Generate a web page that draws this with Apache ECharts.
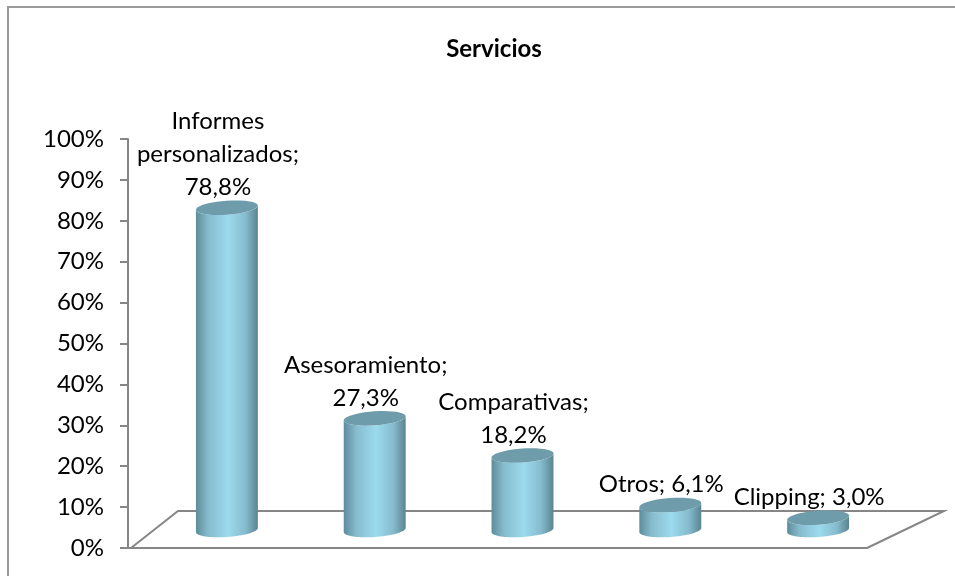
<!DOCTYPE html>
<html>
<head>
<meta charset="utf-8">
<style>
  html, body { margin: 0; padding: 0; background: #fff; }
  #chart { width: 955px; height: 577px; }
</style>
<script src="https://cdn.jsdelivr.net/npm/echarts@6/dist/echarts.min.js"></script>
</head>
<body>
<div id="chart"></div>
<script>
const categories = ['Informes personalizados', 'Asesoramiento', 'Comparativas', 'Otros', 'Clipping'];
const values = [78.8, 27.3, 18.2, 6.1, 3.0];
const wrappedNames = ['Informes\npersonalizados;\n', 'Asesoramiento;\n', 'Comparativas;\n', 'Otros; ', 'Clipping; '];

const fontName = 'Lato';
const axisColor = '#868686';
// fake 3d depth of the floor
const depthX = 25;
const depthY = -18;

function ellipsePoints(cx, cy, rx, ry, from, to) {
  // tilted a few degrees like the excel cylinders
  const tilt = -4 * Math.PI / 180;
  const pts = [];
  for (let i = 0; i <= 40; i++) {
    const a = from + (to - from) * i / 40;
    const ex = rx * Math.cos(a);
    const ey = ry * Math.sin(a);
    pts.push([cx + ex * Math.cos(tilt) - ey * Math.sin(tilt), cy + ex * Math.sin(tilt) + ey * Math.cos(tilt)]);
  }
  return pts;
}

function renderCylinder(params, api) {
  const top = api.coord([api.value(0), api.value(1)]);
  const base = api.coord([api.value(0), 0]);
  const rx = api.size([1, 0])[0] * 0.21;
  const cx = top[0] + depthX;
  const topY = top[1] + depthY;
  const baseY = base[1] + depthY;
  const ry = 7;
  // body goes over the lower half of the bottom ellipse
  const body = ellipsePoints(cx, baseY, rx, ry, Math.PI, 0).concat(ellipsePoints(cx, topY, rx, ry, 0, Math.PI));
  const fill = new echarts.graphic.LinearGradient(cx - rx, 0, cx + rx, 0, [
    { offset: 0, color: '#5d8c9b' },
    { offset: 0.2, color: '#86bccd' },
    { offset: 0.52, color: '#9cdaee' },
    { offset: 0.8, color: '#85bccd' },
    { offset: 1, color: '#5a8390' }
  ], true);
  return {
    type: 'group',
    children: [
      { type: 'polygon', shape: { points: body }, style: { fill: fill } },
      { type: 'polygon', shape: { points: ellipsePoints(cx, topY, rx, ry, 0, Math.PI * 2) }, style: { fill: '#6e9cab' } },
      {
        type: 'text',
        style: {
          x: cx - 9,
          y: topY - 4,
          text: wrappedNames[params.dataIndex] + String(api.value(1).toFixed(1)).replace('.', ',') + '%',
          align: 'center',
          verticalAlign: 'bottom',
          fill: '#000',
          font: '24px ' + fontName,
          lineHeight: 33
        }
      }
    ]
  };
}

function renderFloor(params) {
  const c = params.coordSys;
  const bottom = c.y + c.height;
  return {
    type: 'polyline',
    shape: {
      points: [
        [c.x + 3, bottom],
        [c.x + 50, bottom - 37],
        [c.x + c.width + 77, bottom - 37],
        [c.x + c.width, bottom]
      ]
    },
    style: { fill: null, stroke: axisColor, lineWidth: 2 }
  };
}

const chart = echarts.init(document.getElementById('chart'));
chart.setOption({
  animation: false,
  title: {
    text: 'Servicios',
    left: 489,
    top: 32,
    textAlign: 'center',
    textStyle: { fontFamily: fontName, fontSize: 24, fontWeight: 'bold', color: '#000' }
  },
  graphic: [
    {
      // the outer frame only shows on top and left
      type: 'polyline',
      silent: true,
      shape: { points: [[8, 576], [8, 7], [955, 7]] },
      style: { fill: null, stroke: '#9a9a9a', lineWidth: 2 }
    }
  ],
  grid: { left: 128, right: 88, top: 139, bottom: 29 },
  xAxis: {
    type: 'category',
    data: categories,
    axisTick: { show: false },
    axisLabel: { show: false },
    axisLine: { show: true, lineStyle: { color: axisColor, width: 2 } }
  },
  yAxis: {
    type: 'value',
    min: 0,
    max: 100,
    interval: 10,
    splitLine: { show: false },
    axisLine: { show: true, lineStyle: { color: axisColor, width: 2 } },
    axisTick: { show: true, length: 8, lineStyle: { color: axisColor, width: 2 } },
    axisLabel: {
      margin: 24,
      formatter: '{value}%',
      color: '#000',
      fontFamily: fontName,
      fontSize: 24
    }
  },
  series: [
    {
      type: 'custom',
      clip: false,
      silent: true,
      z: 1,
      renderItem: renderFloor,
      data: [0]
    },
    {
      type: 'custom',
      clip: false,
      z: 2,
      renderItem: renderCylinder,
      encode: { x: 0, y: 1 },
      data: categories.map((name, i) => [i, values[i]])
    }
  ]
});
</script>
</body>
</html>
